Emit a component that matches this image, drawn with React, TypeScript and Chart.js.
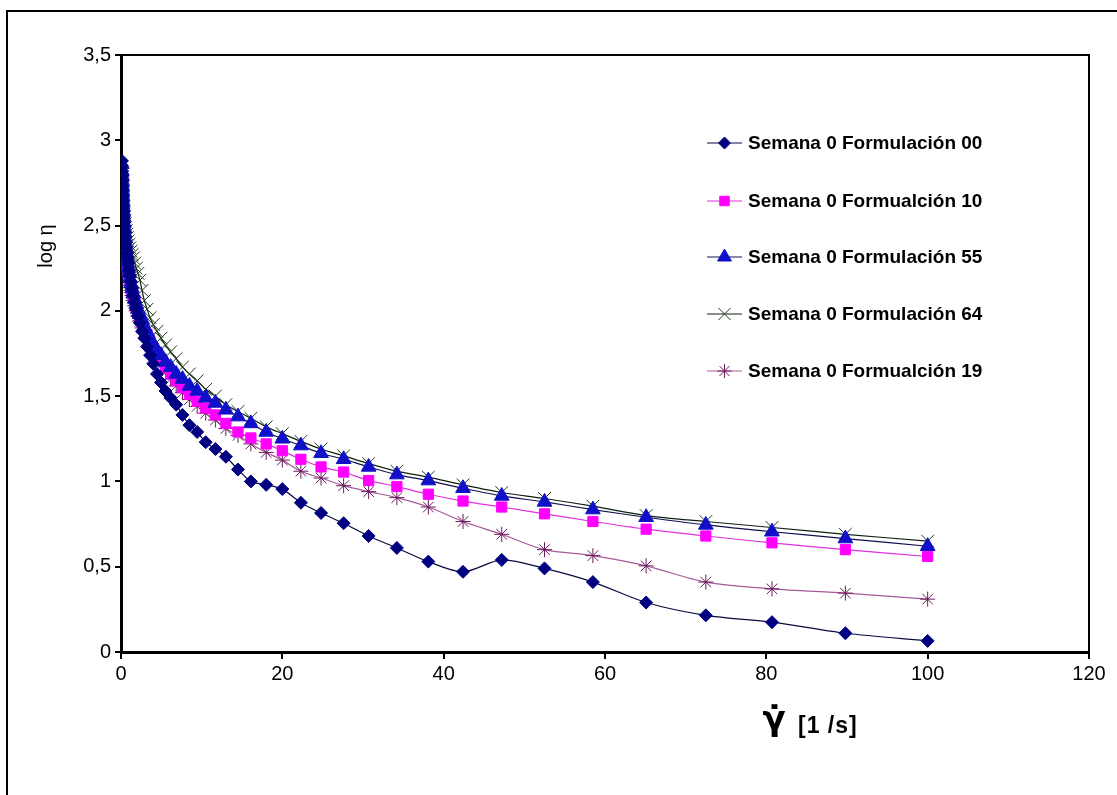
import React, { useEffect, useRef } from 'react';
import { Chart, registerables } from 'chart.js';
import { drawPoint } from 'chart.js/helpers';

Chart.register(...registerables);

// Shear rate [1/s]
const shearRate = [
  0.1, 0.115, 0.13, 0.145, 0.16, 0.18, 0.2, 0.22, 0.25, 0.27,
  0.3, 0.34, 0.38, 0.42, 0.47, 0.52, 0.58, 0.65, 0.72, 0.8,
  0.89, 0.99, 1.1, 1.23, 1.37, 1.52, 1.7, 1.89, 2.1, 2.34,
  2.61, 2.9, 3.23, 3.6, 4.0, 4.46, 4.96, 5.52, 6.15, 6.84,
  7.62, 8.48, 9.44, 10.5, 11.7, 13.0, 14.5, 16.1, 18.0, 20.0,
  22.3, 24.8, 27.6, 30.7, 34.2, 38.1, 42.4, 47.2, 52.5, 58.5,
  65.1, 72.5, 80.7, 89.8, 100,
];

// log viscosity per formulation
const f00 = [
  2.88, 2.85, 2.82, 2.79, 2.76, 2.73, 2.7, 2.67, 2.64, 2.61,
  2.58, 2.55, 2.52, 2.49, 2.46, 2.43, 2.4, 2.37, 2.34, 2.31,
  2.28, 2.24, 2.21, 2.17, 2.13, 2.09, 2.05, 2.01, 1.97, 1.93,
  1.88, 1.84, 1.79, 1.74, 1.69, 1.63, 1.58, 1.53, 1.49, 1.45,
  1.39, 1.33, 1.29, 1.23, 1.19, 1.145, 1.07, 1.0, 0.98, 0.955,
  0.875, 0.815, 0.755, 0.68, 0.61, 0.53, 0.47, 0.54, 0.49, 0.41,
  0.29, 0.215, 0.175, 0.11, 0.065,
];
const f10 = [
  2.7, 2.67, 2.64, 2.62, 2.6, 2.57, 2.55, 2.53, 2.5, 2.48,
  2.46, 2.43, 2.41, 2.39, 2.37, 2.35, 2.33, 2.31, 2.28, 2.26,
  2.24, 2.21, 2.18, 2.15, 2.12, 2.09, 2.06, 2.02, 1.99, 1.96,
  1.93, 1.89, 1.86, 1.82, 1.78, 1.75, 1.71, 1.67, 1.63, 1.59,
  1.55, 1.51, 1.47, 1.43, 1.39, 1.34, 1.29, 1.255, 1.22, 1.18,
  1.13, 1.085, 1.055, 1.005, 0.97, 0.925, 0.885, 0.85, 0.81, 0.765,
  0.72, 0.68, 0.64, 0.6, 0.56,
];
const f55 = [
  2.86, 2.82, 2.79, 2.76, 2.73, 2.7, 2.67, 2.64, 2.61, 2.58,
  2.55, 2.52, 2.49, 2.46, 2.43, 2.4, 2.37, 2.34, 2.31, 2.28,
  2.25, 2.22, 2.19, 2.16, 2.13, 2.1, 2.07, 2.04, 2.01, 1.98,
  1.95, 1.91, 1.88, 1.84, 1.8, 1.77, 1.74, 1.7, 1.67, 1.63,
  1.6, 1.56, 1.53, 1.49, 1.46, 1.42, 1.38, 1.34, 1.29, 1.25,
  1.21, 1.165, 1.13, 1.085, 1.04, 1.005, 0.96, 0.915, 0.88, 0.835,
  0.79, 0.745, 0.705, 0.665, 0.62,
];
const f64 = [
  2.84, 2.81, 2.78, 2.76, 2.74, 2.71, 2.69, 2.67, 2.65, 2.63,
  2.61, 2.59, 2.57, 2.55, 2.53, 2.51, 2.49, 2.47, 2.45, 2.43,
  2.41, 2.39, 2.37, 2.35, 2.33, 2.31, 2.28, 2.25, 2.22, 2.18,
  2.12, 2.06, 2.01, 1.96, 1.92, 1.88, 1.84, 1.8, 1.76, 1.72,
  1.67, 1.63, 1.59, 1.54, 1.5, 1.45, 1.41, 1.37, 1.32, 1.28,
  1.235, 1.19, 1.15, 1.105, 1.06, 1.025, 0.98, 0.935, 0.9, 0.855,
  0.8, 0.765, 0.73, 0.69, 0.65,
];
const f19 = [
  2.78, 2.75, 2.72, 2.69, 2.66, 2.63, 2.6, 2.57, 2.54, 2.52,
  2.49, 2.46, 2.44, 2.41, 2.38, 2.36, 2.33, 2.3, 2.27, 2.24,
  2.21, 2.18, 2.15, 2.12, 2.09, 2.06, 2.03, 2.0, 1.97, 1.94,
  1.9, 1.87, 1.83, 1.79, 1.76, 1.72, 1.68, 1.64, 1.6, 1.56,
  1.52, 1.48, 1.44, 1.4, 1.36, 1.31, 1.27, 1.22, 1.17, 1.125,
  1.06, 1.02, 0.975, 0.94, 0.905, 0.85, 0.765, 0.69, 0.6, 0.565,
  0.505, 0.41, 0.37, 0.345, 0.31,
];

const seriesNames = [
  'Semana 0 Formulación 00',
  'Semana 0 Formualción 10',
  'Semana 0 Formulación 55',
  'Semana 0 Formulación 64',
  'Semana 0 Formualción 19',
];

const xTitleSymbol = 'γ\u0307';
const xTitleUnit = '[1 /s]';
const yTitle = 'log η';

const FONT = 'Arial, "Liberation Sans", sans-serif';

export default function App() {
  const ref = useRef<HTMLCanvasElement>(null);

  useEffect(() => {
    const pts = (ys: number[]) => shearRate.map((x, i) => ({ x, y: ys[i] }));

    const styles = [
      { data: f00, style: 'rectRot', radius: 6.5, fill: '#000080', border: '#000080', line: '#0a0a40', order: 0 },
      { data: f10, style: 'rect', radius: 7.2, fill: '#ff00ff', border: '#ff00ff', line: '#e030e0', order: 2 },
      { data: f55, style: 'triangle', radius: 8.5, fill: '#1010c8', border: '#1010c8', line: '#101050', order: 1 },
      { data: f64, style: 'crossRot', radius: 9, fill: '#203a20', border: '#203a20', line: '#102010', order: 3 },
      { data: f19, style: 'star', radius: 7.5, fill: '#6a1a5a', border: '#6a1a5a', line: '#a85898', order: 4 },
    ];

    const decor = {
      id: 'decor',
      beforeDatasetsDraw(chart: any) {
        const { ctx, chartArea: a } = chart;
        ctx.save();
        ctx.strokeStyle = '#000';
        ctx.lineWidth = 2;
        ctx.beginPath();
        ctx.moveTo(a.left, a.top);
        ctx.lineTo(a.right, a.top);
        ctx.lineTo(a.right, a.bottom);
        ctx.stroke();
        ctx.restore();
      },
      afterDraw(chart: any) {
        const { ctx } = chart;
        ctx.save();
        // legend
        const legendY = [143, 201, 257, 314, 371];
        chart.data.datasets.forEach((ds: any, i: number) => {
          const y = legendY[i];
          ctx.strokeStyle = ds.borderColor;
          ctx.lineWidth = 1;
          ctx.beginPath();
          ctx.moveTo(707, y);
          ctx.lineTo(742, y);
          ctx.stroke();
          ctx.fillStyle = ds.pointBackgroundColor;
          ctx.strokeStyle = ds.pointBorderColor;
          ctx.lineWidth = 1;
          drawPoint(ctx, { pointStyle: ds.pointStyle, radius: ds.pointRadius - 0.5, rotation: 0, borderWidth: 1 } as any, 724.5, y);
          ctx.fillStyle = '#000';
          ctx.font = `bold 19px ${FONT}`;
          ctx.textBaseline = 'middle';
          ctx.textAlign = 'left';
          ctx.fillText(ds.label, 748, y + 1);
        });
        // y title
        ctx.save();
        ctx.translate(46, 246);
        ctx.rotate(-Math.PI / 2);
        ctx.font = `20px ${FONT}`;
        ctx.textAlign = 'center';
        ctx.textBaseline = 'middle';
        ctx.fillStyle = '#000';
        ctx.fillText(yTitle, 0, 0);
        ctx.restore();
        // x title
        ctx.fillStyle = '#000';
        ctx.textBaseline = 'alphabetic';
        ctx.textAlign = 'center';
        ctx.font = `bold 34px "DejaVu Sans", sans-serif`;
        ctx.fillText(xTitleSymbol, 774, 730);
        ctx.textAlign = 'left';
        ctx.font = `bold 23px ${FONT}`;
        (ctx as any).letterSpacing = '1px';
        ctx.fillText(xTitleUnit, 798, 733);
        (ctx as any).letterSpacing = '0px';
        ctx.restore();
      },
    };

    const chart = new Chart(ref.current as HTMLCanvasElement, {
      type: 'scatter',
      data: {
        datasets: styles.map((s, i) => ({
          label: seriesNames[i],
          data: pts(s.data),
          showLine: true,
          tension: 0.3,
          borderColor: s.line,
          borderWidth: 1.2,
          pointStyle: s.style as any,
          pointRadius: s.radius,
          pointBackgroundColor: s.fill,
          pointBorderColor: s.border,
          pointBorderWidth: 1,
          order: s.order,
        })),
      },
      options: {
        animation: false,
        responsive: false,
        devicePixelRatio: 1,
        layout: { padding: { top: 55, right: 28, left: 0, bottom: 0 } },
        plugins: { legend: { display: false }, tooltip: { enabled: false } },
        scales: {
          x: {
            type: 'linear',
            min: 0,
            max: 120,
            afterFit: (s: any) => { s.height = 795 - 652; },
            ticks: {
              stepSize: 20,
              color: '#000',
              padding: 3,
              font: { size: 20, family: FONT },
            },
            grid: { drawOnChartArea: false, drawTicks: true, tickLength: 7, color: '#000', lineWidth: 2 },
            border: { display: true, color: '#000', width: 3 },
          },
          y: {
            type: 'linear',
            min: 0,
            max: 3.5,
            afterFit: (s: any) => { s.width = 121; },
            ticks: {
              stepSize: 0.5,
              color: '#000',
              padding: 4,
              font: { size: 20, family: FONT },
              callback: (v: any) => String(v).replace('.', ','),
            },
            grid: { drawOnChartArea: false, drawTicks: true, tickLength: 6, color: '#000', lineWidth: 2 },
            border: { display: true, color: '#000', width: 3 },
          },
        },
      },
      plugins: [decor],
    });
    return () => chart.destroy();
  }, []);

  return (
    <div style={{ position: 'fixed', left: 0, top: 0, width: 1117, height: 795, background: '#fff', overflow: 'hidden' }}>
      <div style={{ position: 'absolute', left: 6, top: 10, width: 1111, height: 785, borderLeft: '2px solid #000', borderTop: '2px solid #000', boxSizing: 'border-box' }} />
      <canvas ref={ref} width={1117} height={795} style={{ position: 'absolute', left: 0, top: 0 }} />
    </div>
  );
}
